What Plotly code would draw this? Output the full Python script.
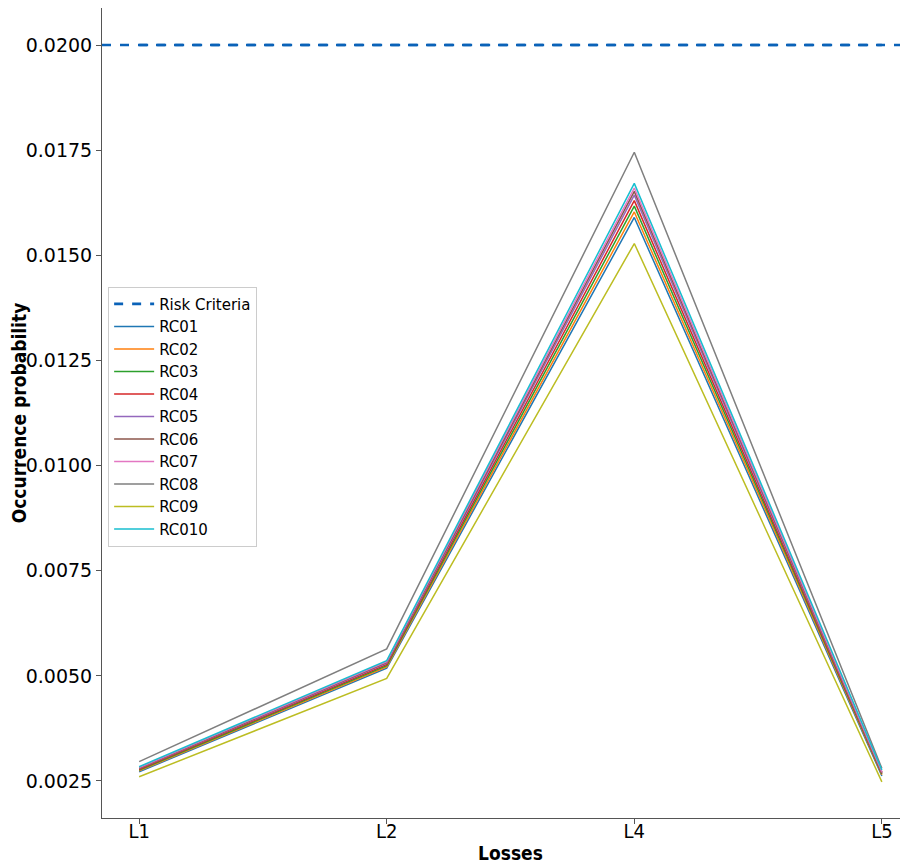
import plotly.graph_objects as go

losses = ["L1", "L2", "L4", "L5"]
risk_criteria = 0.0200
series_names = ["RC01", "RC02", "RC03", "RC04", "RC05", "RC06", "RC07", "RC08", "RC09", "RC010"]
rc01 = [0.00272, 0.00518, 0.01590, 0.00262]
rc02 = [0.00274, 0.00521, 0.01603, 0.00265]
rc03 = [0.00276, 0.00524, 0.01617, 0.00267]
rc04 = [0.00278, 0.00527, 0.01630, 0.00268]
rc05 = [0.00280, 0.00530, 0.01643, 0.00270]
rc06 = [0.00281, 0.00532, 0.01652, 0.00271]
rc07 = [0.00282, 0.00534, 0.01660, 0.00272]
rc08 = [0.00296, 0.00564, 0.01745, 0.00280]
rc09 = [0.00260, 0.00494, 0.01528, 0.00248]
rc010 = [0.00284, 0.00536, 0.01671, 0.00276]
series_values = [rc01, rc02, rc03, rc04, rc05, rc06, rc07, rc08, rc09, rc010]
colors = ["#1f77b4", "#ff7f0e", "#2ca02c", "#d62728", "#9467bd",
          "#8c564b", "#e377c2", "#7f7f7f", "#bcbd22", "#17becf"]

fig = go.Figure()
fig.add_trace(go.Scatter(
    x=losses, y=[risk_criteria] * len(losses), mode="lines", name="Risk Criteria",
    line=dict(color="#0a62b8", width=2.6, dash="dash")))
fig.add_shape(type="line", xref="paper", yref="y", x0=0, x1=1, y0=risk_criteria, y1=risk_criteria,
              line=dict(color="#0a62b8", width=2.6, dash="dash"), layer="above")
for name, vals, c in zip(series_names, series_values, colors):
    fig.add_trace(go.Scatter(x=losses, y=vals, mode="lines", name=name,
                             line=dict(color=c, width=1.5)))

# page has an 8px body margin; the plot area runs past the right edge of the view, as in the reference
fig.update_layout(
    width=913, height=856,
    margin=dict(l=94, r=2, t=0, b=46, autoexpand=False),
    paper_bgcolor="white", plot_bgcolor="white",
    font=dict(family="DejaVu Sans", size=19, color="black"),
    showlegend=True,
    legend=dict(x=0.0075, y=0.656, xanchor="left", yanchor="top",
                font=dict(size=15, family="DejaVu Sans"),
                bordercolor="#cccccc", borderwidth=1, bgcolor="white",
                tracegroupgap=0, itemwidth=40),
    xaxis=dict(type="category", range=[-0.15, 3.15], showgrid=False, zeroline=False,
               automargin=False,
               showline=True, linecolor="#555555", linewidth=1, mirror=True,
               ticks="outside", ticklen=5, tickcolor="#555555",
               ticklabelstandoff=-10,
               title=dict(text="<b>Losses</b>", font=dict(size=19, family="DejaVu Sans Condensed, DejaVu Sans"), standoff=4),
               tickfont=dict(size=20, family="DejaVu Sans Condensed, DejaVu Sans")),
    yaxis=dict(range=[0.00162, 0.02088], showgrid=False, zeroline=False,
               automargin=False,
               showline=True, linecolor="#555555", linewidth=1, mirror=True,
               ticks="outside", ticklen=5, tickcolor="#555555",
               tickvals=[0.0025, 0.0050, 0.0075, 0.0100, 0.0125, 0.0150, 0.0175, 0.0200],
               tickformat=".4f",
               title=dict(text="<b>Occurrence probability</b>", font=dict(size=19, family="DejaVu Sans Condensed, DejaVu Sans"), standoff=6),
               tickfont=dict(size=19)),
)
fig.write_html("out.html")
